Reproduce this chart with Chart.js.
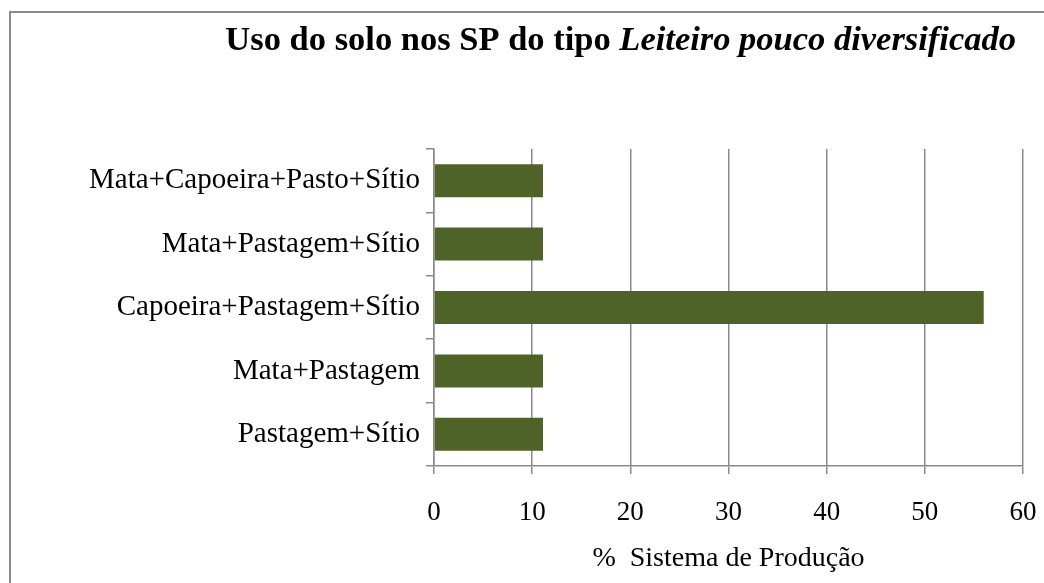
<!DOCTYPE html>
<html>
<head>
<meta charset="utf-8">
<script src="https://cdn.jsdelivr.net/npm/chart.js@4/dist/chart.umd.min.js"></script>
<style>
  html, body { margin: 0; padding: 0; background: #fff; overflow: hidden; }
  #wrap { width: 1044px; height: 583px; position: relative; }
</style>
</head>
<body>
<div id="wrap"><canvas id="myChart" width="1044" height="583"></canvas></div>
<script>
// Uso do solo nos SP do tipo Leiteiro pouco diversificado

const categories = [
    'Mata+Capoeira+Pasto+Sítio',
    'Mata+Pastagem+Sítio',
    'Capoeira+Pastagem+Sítio',
    'Mata+Pastagem',
    'Pastagem+Sítio'
];
const percentValues = [11.1, 11.1, 56, 11.1, 11.1];
const xTicks = [0, 10, 20, 30, 40, 50, 60];

const titlePlain = 'Uso do solo nos SP do tipo ';
const titleItalic = 'Leiteiro pouco diversificado';
const axisTitle = '%  Sistema de Produção';

const SERIF = '"Liberation Serif", "Times New Roman", serif';
const GREY = '#8a8a8a';

// draws the frame and the mixed bold / bold-italic title
const frameAndTitle = {
    id: 'frameAndTitle',
    beforeDraw(chart) {
        const ctx = chart.ctx;
        ctx.save();
        ctx.fillStyle = '#fff';
        ctx.fillRect(0, 0, chart.width, chart.height);
        ctx.strokeStyle = GREY;
        ctx.lineWidth = 2;
        ctx.beginPath();
        ctx.moveTo(10, chart.height);
        ctx.lineTo(10, 12);
        ctx.lineTo(chart.width, 12);
        ctx.stroke();
        ctx.restore();
    },
    afterDraw(chart) {
        const ctx = chart.ctx;
        ctx.save();
        ctx.fillStyle = '#000';
        ctx.textBaseline = 'alphabetic';
        ctx.font = 'bold 34.5px ' + SERIF;
        const w1 = ctx.measureText(titlePlain).width;
        ctx.font = 'italic bold 34.5px ' + SERIF;
        const w2 = ctx.measureText(titleItalic).width;
        const right = 1016;
        const x0 = right - (w1 + w2);
        ctx.font = 'bold 34.5px ' + SERIF;
        ctx.fillText(titlePlain, x0, 50);
        ctx.font = 'italic bold 34.5px ' + SERIF;
        ctx.fillText(titleItalic, x0 + w1, 50);
        ctx.restore();
    }
};

const ctx = document.getElementById('myChart').getContext('2d');
new Chart(ctx, {
    type: 'bar',
    data: {
        labels: categories,
        datasets: [{
            data: percentValues,
            backgroundColor: '#4F6228',
            borderWidth: 0,
            categoryPercentage: 1,
            barPercentage: 0.52
        }]
    },
    options: {
        indexAxis: 'y',
        responsive: false,
        animation: false,
        layout: { padding: { top: 149, right: 21, left: 0, bottom: 0 } },
        plugins: {
            legend: { display: false },
            title: { display: false },
            tooltip: { enabled: false }
        },
        scales: {
            x: {
                min: 0,
                max: 60,
                afterBuildTicks: (scale) => { scale.ticks = xTicks.map(v => ({ value: v })); },
                afterFit: (scale) => {
                    scale.height = 117;
                    scale.paddingLeft = 0;
                    scale.paddingRight = 0;
                },
                grid: { color: GREY, lineWidth: 1.5, tickLength: 8, drawTicks: true },
                border: { color: GREY, width: 1.5 },
                ticks: {
                    color: '#000',
                    padding: 23,
                    font: { family: SERIF, size: 27 }
                },
                title: {
                    display: true,
                    text: axisTitle,
                    color: '#000',
                    font: { family: SERIF, size: 28 },
                    padding: { top: 4, bottom: 8 }
                }
            },
            y: {
                afterFit: (scale) => { scale.width = 434; },
                grid: { offset: true, drawOnChartArea: false, drawTicks: true, tickLength: 8, color: GREY, lineWidth: 1.5 },
                border: { color: GREY, width: 1.5 },
                ticks: {
                    color: '#000',
                    padding: 6,
                    font: { family: SERIF, size: 29 }
                }
            }
        }
    },
    plugins: [frameAndTitle]
});
</script>
</body>
</html>
